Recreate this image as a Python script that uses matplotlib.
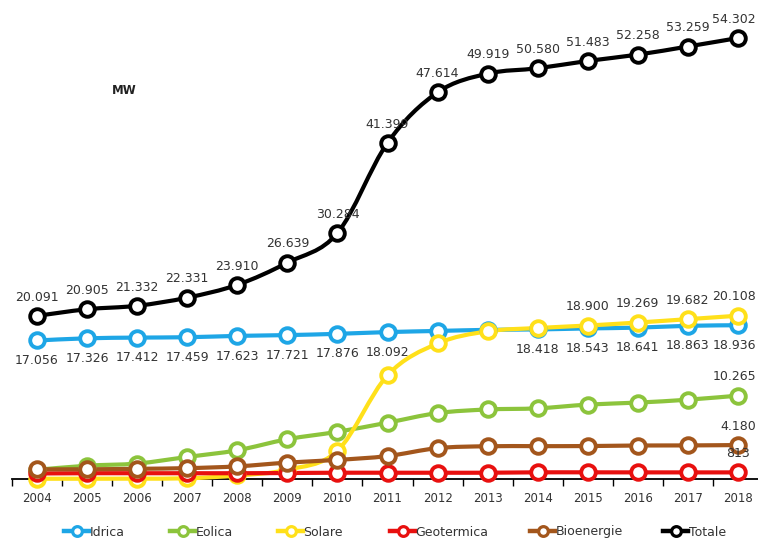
import matplotlib.pyplot as plt
import numpy as np
from matplotlib.path import Path
from matplotlib.patches import PathPatch
from matplotlib.lines import Line2D

years = list(range(2004, 2019))
idrica = [17056, 17326, 17412, 17459, 17623, 17721, 17876, 18092, 18232, 18366, 18418, 18543, 18641, 18863, 18936]
eolica = [1131, 1639, 1908, 2714, 3538, 4898, 5814, 6936, 8119, 8561, 8703, 9162, 9410, 9766, 10265]
solare = [31, 34, 45, 87, 432, 1144, 3470, 12773, 16690, 18185, 18594, 18900, 19269, 19682, 20108]
geotermica = [681, 711, 711, 711, 711, 737, 772, 772, 772, 773, 821, 821, 815, 813, 813]
bioenergie = [1190, 1195, 1256, 1336, 1555, 2019, 2352, 2825, 3802, 4033, 4044, 4057, 4124, 4135, 4180]
totale = [20091, 20905, 21332, 22331, 23910, 26639, 30284, 41399, 47614, 49919, 50580, 51483, 52258, 53259, 54302]

names = ['Idrica', 'Eolica', 'Solare', 'Geotermica', 'Bioenergie', 'Totale']
colors = ['#1ea6e6', '#8cc43c', '#ffe01a', '#e8100f', '#a3561c', '#000000']
series = [idrica, eolica, solare, geotermica, bioenergie, totale]

# which points get a value label, and where (above / below)
labels = {
    'Idrica': ([0, 1, 2, 3, 4, 5, 6, 7, 10, 11, 12, 13, 14], 'below'),
    'Eolica': ([14], 'above'),
    'Solare': ([11, 12, 13, 14], 'above'),
    'Geotermica': ([14], 'above'),
    'Bioenergie': ([14], 'above'),
    'Totale': (list(range(15)), 'above'),
}


def fmt(v):
    return f'{v:,}'.replace(',', '.')


def smooth_path(x, y):
    # excel-like smoothed line: cubic bezier through every point
    p = np.column_stack([x, y]).astype(float)
    n = len(p)
    verts = [p[0]]
    codes = [Path.MOVETO]
    for i in range(n - 1):
        p0 = p[i - 1] if i > 0 else p[i]
        p3 = p[i + 2] if i + 2 < n else p[i + 1]
        c1 = p[i] + (p[i + 1] - p0) / 6
        c2 = p[i + 1] - (p3 - p[i]) / 6
        verts += [c1, c2, p[i + 1]]
        codes += [Path.CURVE4] * 3
    return Path(verts, codes)


fig = plt.figure(figsize=(7.58, 5.41), dpi=100)
ax = fig.add_axes([12 / 758, 1 - 479 / 541, 1 - 12 / 758, 471 / 541])
x = np.arange(len(years))

for name, col, vals in zip(names, colors, series):
    ax.add_patch(PathPatch(smooth_path(x, vals), fill=False, edgecolor=col,
                           lw=3, zorder=3, clip_on=False))
    ax.plot(x, vals, ls='none', marker='o', ms=10.5, mfc='white', mec=col,
            mew=2.8, zorder=4, clip_on=False)
    idx, pos = labels[name]
    for i in idx:
        dy = 13.5 if pos == 'above' else -14.5
        txt = fmt(vals[i])
        dx, ha = 0, 'center'
        if i == len(years) - 1 and len(txt) > 5:
            # keep the last labels inside the figure edge
            dx, ha = 13, 'right'
        ax.annotate(txt, (x[i], vals[i]), xytext=(dx, dy),
                    textcoords='offset points', ha=ha, va='center',
                    fontsize=9, color='#333333', zorder=5,
                    annotation_clip=False)

ax.set_xlim(-0.5, 14.4)
ax.set_ylim(0, 58000)
ax.set_xticks(x)
ax.set_xticklabels(years, fontsize=8.5, color='#333333')
ax.set_xticks(np.arange(-0.5, 14.5, 1), minor=True)
ax.tick_params(axis='x', which='major', length=0, pad=9)
ax.tick_params(axis='x', which='minor', length=5, width=1, direction='out')
ax.set_yticks([])
for s in ['top', 'right', 'left']:
    ax.spines[s].set_visible(False)
ax.spines['bottom'].set_linewidth(1.3)
ax.patch.set_alpha(0)

fig.text(112 / 758, 1 - 90 / 541, 'MW', fontsize=8.5, fontweight='bold',
         va='center', color='#222222')

# legend entries placed one by one, like the excel layout
leg_x = [64, 170, 278, 390, 530, 663]
for lx, name, col in zip(leg_x, names, colors):
    h = Line2D([], [], color=col, lw=3.2, marker='o', ms=7, mfc='white',
               mec=col, mew=2.3)
    leg = fig.legend([h], [name], loc='center left',
                     bbox_to_anchor=(lx / 758, 1 - 532 / 541), frameon=False,
                     fontsize=9, handlelength=2.0, handletextpad=0.05,
                     borderpad=0, borderaxespad=0)
    for t in leg.get_texts():
        t.set_color('#333333')

fig.savefig('out.png', dpi=100)
